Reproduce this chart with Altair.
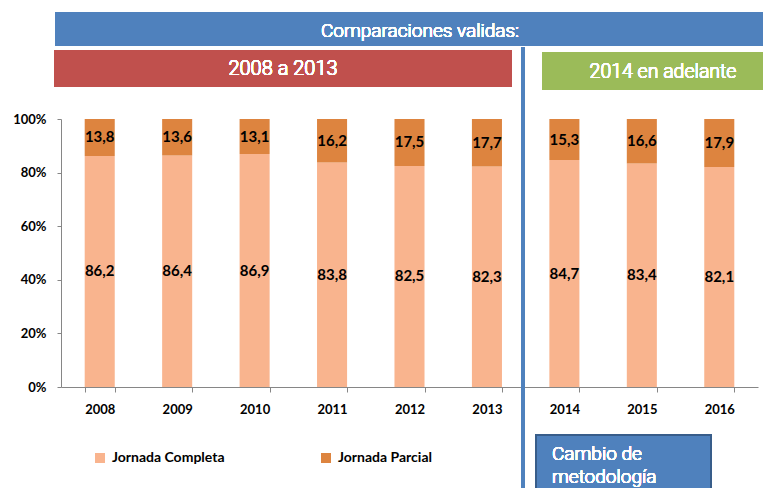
import altair as alt
import pandas as pd

years = ["2008", "2009", "2010", "2011", "2012", "2013", "2014", "2015", "2016"]
completa = [86.2, 86.4, 86.9, 83.8, 82.5, 82.3, 84.7, 83.4, 82.1]
parcial = [13.8, 13.6, 13.1, 16.2, 17.5, 17.7, 15.3, 16.6, 17.9]
series = ["Jornada Completa", "Jornada Parcial"]
colors = ["#F9B48E", "#DD843F"]
y_ticks = [0, 20, 40, 60, 80, 100]

rows = []
for i, y in enumerate(years):
    rows.append({"year": y, "serie": series[0], "order": 0, "value": completa[i]})
    rows.append({"year": y, "serie": series[1], "order": 1, "value": parcial[i]})
df = pd.DataFrame(rows)

FONT = "Lato"
BFONT = "Roboto"

base = alt.Chart(df).transform_stack(
    stack="value", groupby=["year"], as_=["v0", "v1"],
    sort=[alt.SortField("order", "ascending")]
).transform_calculate(
    mid="(datum.v0 + datum.v1) / 2",
    label="replace(format(datum.value, '.1f'), '.', ',')"
)

xenc = alt.X("year:N", sort=years,
             scale=alt.Scale(paddingInner=0.612, paddingOuter=0.306),
             axis=alt.Axis(title=None, labelAngle=0, tickBand="extent",
                           domainColor="#868686", tickColor="#868686",
                           tickSize=5, labelPadding=11, labelFont=FONT,
                           labelFontSize=13, labelFontWeight="bold",
                           labelColor="#000000"))

bars = base.mark_bar().encode(
    x=xenc,
    y=alt.Y("v0:Q", scale=alt.Scale(domain=[0, 100]),
            axis=alt.Axis(title=None, values=y_ticks, grid=False,
                          labelExpr="datum.value + '%'",
                          domainColor="#868686", tickColor="#868686",
                          tickSize=4, labelPadding=11, labelFont=FONT,
                          labelFontSize=13, labelFontWeight="bold",
                          labelColor="#000000")),
    y2="v1:Q",
    color=alt.Color("serie:N", scale=alt.Scale(domain=series, range=colors),
                    legend=alt.Legend(title=None, orient="none", legendX=32,
                                      legendY=332, direction="horizontal",
                                      symbolType="square", symbolSize=100,
                                      symbolStrokeWidth=0, labelFont=FONT,
                                      labelFontSize=14, labelFontWeight="bold",
                                      labelColor="#000000", columnPadding=94,
                                      labelOffset=5, padding=0)),
)

labels = base.mark_text(font=FONT, fontSize=15, fontWeight="bold",
                        color="#000000", baseline="middle").encode(
    x=alt.X("year:N", sort=years),
    y=alt.Y("mid:Q"),
    text="label:N",
)

def rect(x, x2, y, y2, fill, stroke=None):
    kw = {"fill": fill}
    if stroke:
        kw.update({"stroke": stroke, "strokeWidth": 2})
    return alt.Chart(df).mark_rect(**kw).encode(
        x=alt.value(x), x2=alt.value(x2), y=alt.value(y), y2=alt.value(y2))

def txt(t, x, y, size, align="center"):
    return alt.Chart(df).mark_text(text=t, font=BFONT, fontSize=size,
                                    fontWeight=300,
                                    color="white", align=align,
                                    baseline="middle").encode(
        x=alt.value(x), y=alt.value(y))

blue = rect(-6, 712, -107, -73, "#4F81BD")
red = rect(-7, 451, -69, -32, "#C0504D")
green = rect(481, 712, -67, -29, "#9BBB59")
vline = alt.Chart(df).mark_rule(color="#4F81BD", strokeWidth=3).encode(
    x=alt.value(462), y=alt.value(-72), y2=alt.value(369))
box = rect(475, 650, 316, 400, "#4F81BD", "#385D8A")

chart = alt.layer(
    bars, labels, blue, red, green, vline, box,
    txt("Comparaciones validas:", 359, -88, 19),
    txt("2008 a 2013", 222, -50, 20),
    txt("2014 en adelante", 602, -47, 19.5),
    txt("Cambio de", 491, 335, 19, "left"),
    txt("metodología", 491, 358, 19, "left"),
).properties(
    width=697, height=268,
    autosize=alt.AutoSizeParams(type="none"),
    padding={"left": 53, "top": 111, "right": 5, "bottom": 101},
).configure_view(stroke=None)

chart.save("out.html", embed_options={"renderer": "svg", "actions": False})
